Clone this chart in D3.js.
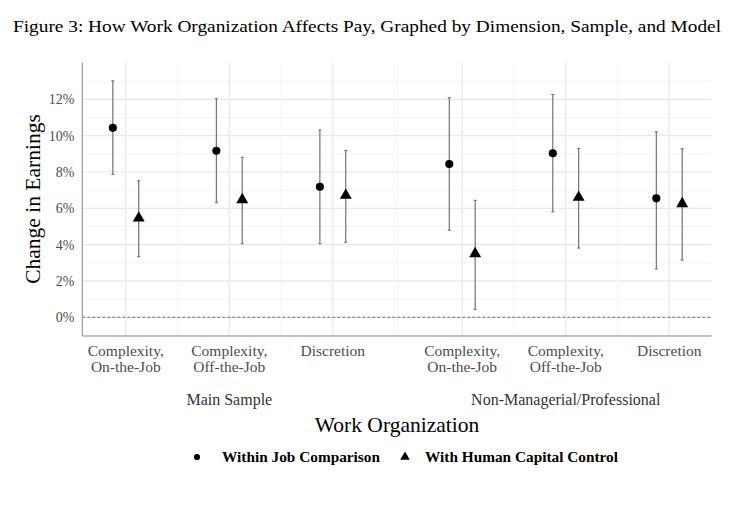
<!DOCTYPE html>
<html><head><meta charset="utf-8">
<script src="https://cdn.jsdelivr.net/npm/d3@7"></script>
<style>body{margin:0;background:#fff}</style>
</head><body>
<svg id="c" width="750" height="522"></svg>
<script>
const groups = ["Main Sample", "Non-Managerial/Professional"];
const categories = [["Complexity,", "On-the-Job"], ["Complexity,", "Off-the-Job"], ["Discretion"]];
const models = ["Within Job Comparison", "With Human Capital Control"];
// estimates, order: group0 cats 0..2, group1 cats 0..2
const withinEst = [10.43, 9.17, 7.19, 8.44, 9.03, 6.55];
const withinLo  = [7.87, 6.31, 4.05, 4.79, 5.80, 2.66];
const withinHi  = [13.02, 12.03, 10.31, 12.09, 12.27, 10.21];
const hcEst = [5.46, 6.47, 6.71, 3.50, 6.60, 6.25];
const hcLo  = [3.34, 4.05, 4.13, 0.44, 3.81, 3.15];
const hcHi  = [7.52, 8.81, 9.19, 6.44, 9.30, 9.28];
const yTicks = [0, 2, 4, 6, 8, 10, 12];

const svg = d3.select("#c");
const serif = "'Liberation Serif','Times New Roman',serif";
const L = 82.3, R = 711.7, T = 63, B = 336;
const pos = (g, c) => g * 3.25 + c + 1; // g0: 1,2,3 ; g1: 4.25,5.25,6.25
const x = d3.scaleLinear().domain([0.58, 6.66]).range([L, R]);
const y = d3.scaleLinear().domain([-1.03, 14.0]).range([B, T]);
const dodge = 0.125;

// title
svg.append("text").attr("x", 367).attr("y", 32).attr("text-anchor", "middle")
  .attr("font-family", serif).attr("font-size", 16.5).attr("fill", "#000")
  .attr("textLength", 708).attr("lengthAdjust", "spacingAndGlyphs")
  .text("Figure 3: How Work Organization Affects Pay, Graphed by Dimension, Sample, and Model");

const grid = svg.append("g");
d3.range(-1, 14, 2).filter(v => v > -1.03).forEach(v => {
  grid.append("line").attr("x1", L).attr("x2", R).attr("y1", y(v)).attr("y2", y(v))
    .attr("stroke", "#f0f0f0").attr("stroke-width", 0.8);
});
yTicks.forEach(v => {
  grid.append("line").attr("x1", L).attr("x2", R).attr("y1", y(v)).attr("y2", y(v))
    .attr("stroke", "#e8e8e8").attr("stroke-width", 1.2);
});
const catPos = [];
groups.forEach((g, gi) => categories.forEach((c, ci) => catPos.push(pos(gi, ci))));
const minorX = [];
for (let i = 0; i < catPos.length - 1; i++) minorX.push((catPos[i] + catPos[i + 1]) / 2);
minorX.forEach(v => grid.append("line").attr("x1", x(v)).attr("x2", x(v)).attr("y1", T).attr("y2", B)
  .attr("stroke", "#f0f0f0").attr("stroke-width", 0.8));
catPos.forEach(v => grid.append("line").attr("x1", x(v)).attr("x2", x(v)).attr("y1", T).attr("y2", B)
  .attr("stroke", "#e8e8e8").attr("stroke-width", 1.2));

svg.append("line").attr("x1", L).attr("x2", R).attr("y1", y(0)).attr("y2", y(0))
  .attr("stroke", "#555").attr("stroke-width", 0.8).attr("stroke-dasharray", "3,2");

svg.append("line").attr("x1", L).attr("x2", L).attr("y1", T).attr("y2", B).attr("stroke", "#888").attr("stroke-width", 1);
svg.append("line").attr("x1", L).attr("x2", R).attr("y1", B).attr("y2", B).attr("stroke", "#888").attr("stroke-width", 1);

const yAxis = d3.axisLeft(y).tickValues(yTicks).tickSize(0).tickPadding(8).tickFormat(d => d + "%");
const ya = svg.append("g").attr("transform", `translate(${L},0)`).call(yAxis);
ya.select(".domain").remove();
ya.selectAll("text").attr("font-family", serif).attr("font-size", 14).attr("fill", "#4d4d4d");

svg.append("text").attr("transform", "translate(40,199) rotate(-90)").attr("text-anchor", "middle")
  .attr("font-family", serif).attr("font-size", 21.5).attr("fill", "#000").text("Change in Earnings");

groups.forEach((g, gi) => {
  categories.forEach((c, ci) => {
    const t = svg.append("text").attr("x", x(pos(gi, ci))).attr("y", 356).attr("text-anchor", "middle")
      .attr("font-family", serif).attr("font-size", 15.5).attr("fill", "#4d4d4d");
    c.forEach((line, li) => t.append("tspan").attr("x", x(pos(gi, ci))).attr("dy", li ? 16 : 0).text(line));
  });
  svg.append("text").attr("x", x(pos(gi, 1))).attr("y", 405).attr("text-anchor", "middle")
    .attr("font-family", serif).attr("font-size", 16).attr("fill", "#333").text(g);
});

svg.append("text").attr("x", (L + R) / 2).attr("y", 432).attr("text-anchor", "middle")
  .attr("font-family", serif).attr("font-size", 21.5).attr("fill", "#000").text("Work Organization");

const series = [
  {est: withinEst, lo: withinLo, hi: withinHi, off: -dodge, shape: d3.symbolCircle, size: 52},
  {est: hcEst, lo: hcLo, hi: hcHi, off: dodge, shape: d3.symbolTriangle, size: 62}
];
const marks = svg.append("g");
series.forEach(s => {
  s.est.forEach((v, i) => {
    const gi = Math.floor(i / 3), ci = i % 3;
    const cx = x(pos(gi, ci) + s.off);
    marks.append("line").attr("x1", cx).attr("x2", cx).attr("y1", y(s.lo[i])).attr("y2", y(s.hi[i]))
      .attr("stroke", "#666").attr("stroke-width", 1.1);
    [s.lo[i], s.hi[i]].forEach(e => marks.append("line").attr("x1", cx - 1.5).attr("x2", cx + 1.5)
      .attr("y1", y(e)).attr("y2", y(e)).attr("stroke", "#666").attr("stroke-width", 1));
    marks.append("path").attr("d", d3.symbol().type(s.shape).size(s.size)())
      .attr("transform", `translate(${cx},${y(v)})`).attr("fill", "#000");
  });
});

const lg = svg.append("g");
const legItems = [{x: 197, tx: 222, w: 158, shape: d3.symbolCircle, size: 30}, {x: 405, tx: 425, w: 193, shape: d3.symbolTriangle, size: 40}];
models.forEach((m, i) => {
  const it = legItems[i];
  lg.append("path").attr("d", d3.symbol().type(it.shape).size(it.size)()).attr("transform", `translate(${it.x},457)`).attr("fill", "#000");
  lg.append("text").attr("x", it.tx).attr("y", 462).attr("font-family", serif).attr("font-size", 14.5)
    .attr("font-weight", "bold").attr("fill", "#000")
    .attr("textLength", it.w).attr("lengthAdjust", "spacingAndGlyphs").text(m);
});
</script>
</body></html>
